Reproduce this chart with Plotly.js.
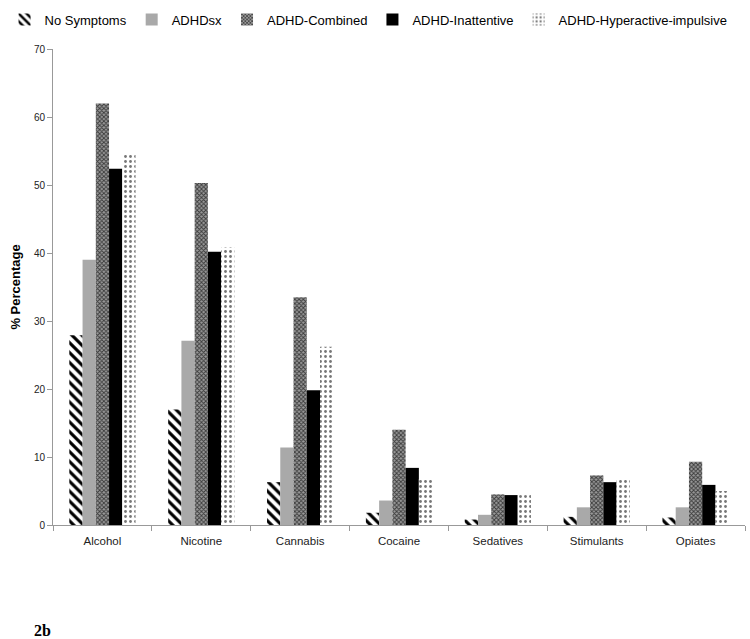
<!DOCTYPE html>
<html>
<head>
<meta charset="utf-8">
<script src="https://cdn.plot.ly/plotly-3.0.1.min.js"></script>
<style>
  body { margin: 0; background: #fff; }
  #graph { width: 750px; height: 639px; }
</style>
</head>
<body>
<div id="graph"></div>
<script>
var substances = ['Alcohol', 'Nicotine', 'Cannabis', 'Cocaine', 'Sedatives', 'Stimulants', 'Opiates'];

var noSymptoms   = [27.9, 17.0, 6.3, 1.8, 0.8, 1.2, 1.1];
var adhdSx       = [39.0, 27.1, 11.4, 3.6, 1.5, 2.6, 2.6];
var combined     = [62.0, 50.3, 33.5, 14.0, 4.5, 7.3, 9.3];
var inattentive  = [52.4, 40.2, 19.8, 8.4, 4.4, 6.3, 5.9];
var hyperactive  = [54.6, 40.8, 26.2, 6.8, 4.4, 6.8, 5.0];

var seriesNames = ['No Symptoms', 'ADHDsx', 'ADHD-Combined', 'ADHD-Inattentive', 'ADHD-Hyperactive-impulsive'];

var trace1 = {
  x: substances, y: noSymptoms, type: 'bar', name: seriesNames[0],
  marker: {
    color: '#ffffff',
    pattern: {shape: '\\', fgcolor: '#000000', bgcolor: '#ffffff', size: 7, solidity: 0.45}
  }
};

var trace2 = {
  x: substances, y: adhdSx, type: 'bar', name: seriesNames[1],
  marker: {color: '#a9a9a9'}
};

var trace3 = {
  x: substances, y: combined, type: 'bar', name: seriesNames[2],
  marker: {
    color: '#5a5a5a',
    pattern: {shape: 'x', fgcolor: '#3a3a3a', bgcolor: '#9a9a9a', size: 3, solidity: 0.5}
  }
};

var trace4 = {
  x: substances, y: inattentive, type: 'bar', name: seriesNames[3],
  marker: {color: '#000000'}
};

var trace5 = {
  x: substances, y: hyperactive, type: 'bar', name: seriesNames[4],
  marker: {
    color: '#ffffff',
    pattern: {shape: '.', fgcolor: '#777777', bgcolor: '#ffffff', size: 5, solidity: 0.25}
  }
};

var layout = {
  width: 750,
  height: 639,
  paper_bgcolor: '#ffffff',
  plot_bgcolor: '#ffffff',
  font: {family: 'Liberation Sans, Arial, sans-serif', size: 11, color: '#333'},
  margin: {l: 50, r: 5, t: 44, b: 114},
  barmode: 'group',
  bargap: 0.33,
  bargroupgap: 0,
  showlegend: true,
  legend: {
    orientation: 'h',
    x: -0.07, xanchor: 'left',
    y: 1.062, yanchor: 'middle',
    font: {size: 13, color: '#000'},
    itemwidth: 30,
    tracegroupgap: 0,
    traceorder: 'normal'
  },
  xaxis: {
    showgrid: false,
    showline: true,
    linecolor: '#999',
    ticks: 'outside',
    tickson: 'boundaries',
    tickcolor: '#999',
    ticklen: 5,
    ticklabelstandoff: 5,
    tickfont: {size: 11.5, color: '#222'}
  },
  yaxis: {
    range: [0, 70],
    dtick: 10,
    showgrid: false,
    zeroline: false,
    showline: true,
    linecolor: '#999',
    ticks: 'outside',
    tickcolor: '#999',
    ticklen: 5,
    tickfont: {size: 10, color: '#222'},
    title: {text: '<b>% Percentage</b>', font: {size: 13, color: '#000'}, standoff: 10}
  },
  annotations: [{
    text: '<b>2b</b>',
    xref: 'paper', yref: 'paper',
    x: -0.03, y: -0.2, xanchor: 'left', yanchor: 'top',
    showarrow: false,
    font: {family: 'Liberation Serif, Times New Roman, serif', size: 16, color: '#000'}
  }]
};

Plotly.newPlot('graph', [trace1, trace2, trace3, trace4, trace5], layout, {displayModeBar: false});
</script>
</body>
</html>
